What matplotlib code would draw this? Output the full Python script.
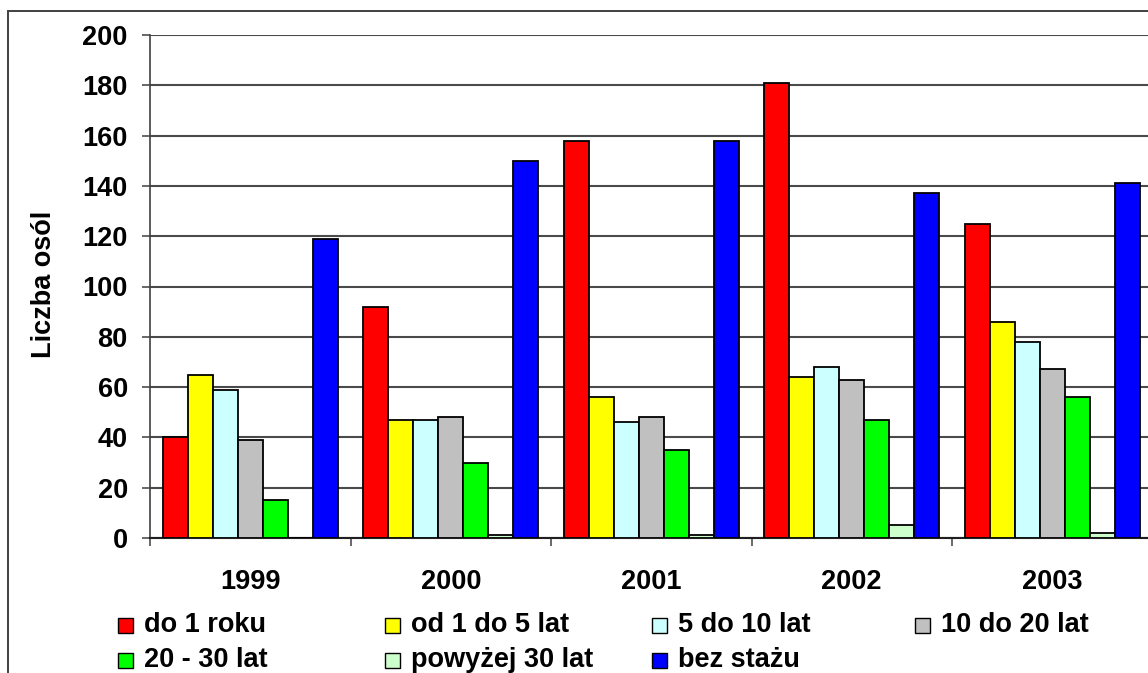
import matplotlib
matplotlib.use("Agg")
import matplotlib.pyplot as plt
import numpy as np
from matplotlib.patches import Rectangle

# data
years = ["1999", "2000", "2001", "2002", "2003"]
series = ["do 1 roku", "od 1 do 5 lat", "5 do 10 lat", "10 do 20 lat",
          "20 - 30 lat", "powyżej 30 lat", "bez stażu"]
do_1_roku = [40, 92, 158, 181, 125]
od_1_do_5 = [65, 47, 56, 64, 86]
od_5_do_10 = [59, 47, 46, 68, 78]
od_10_do_20 = [39, 48, 48, 63, 67]
od_20_do_30 = [15, 30, 35, 47, 56]
powyzej_30 = [0, 1, 1, 5, 2]
bez_stazu = [119, 150, 158, 137, 141]
values = [do_1_roku, od_1_do_5, od_5_do_10, od_10_do_20,
          od_20_do_30, powyzej_30, bez_stazu]
y_ticks = list(range(0, 201, 20))

colors = ["#FF0000", "#FFFF00", "#CCFFFF", "#C0C0C0",
          "#00FF00", "#CCFFCC", "#0000FF"]

plt.rcParams["font.family"] = ["Liberation Sans", "DejaVu Sans"]
FS = 19.5

W, H = 1148, 673
fig = plt.figure(figsize=(W / 100, H / 100), dpi=100)
fig.patch.set_facecolor("white")

# plot area: left edge at x=150 px, y=0 at 538 px, y=200 at 35 px
ax = fig.add_axes([150 / W, 1 - 538 / H, 1002.5 / W, 503 / H])
ax.set_facecolor("white")

x = np.arange(len(years))
bw = 1 / 8
for i, (name, vals) in enumerate(zip(series, values)):
    ax.bar(x + (i - 3) * bw, vals, width=bw, color=colors[i],
           edgecolor="black", linewidth=1.3, zorder=3)

ax.set_xlim(-0.5, len(years) - 0.5)
ax.set_ylim(0, 200)
ax.set_yticks(y_ticks)
ax.set_yticklabels([str(t) for t in y_ticks], fontsize=FS, fontweight="bold")
ax.set_xticks(x)
ax.set_xticklabels(years, fontsize=FS, fontweight="bold")
ax.set_xticks(np.arange(len(years) + 1) - 0.5, minor=True)
ax.tick_params(axis="x", which="major", length=0, pad=22)
ax.tick_params(axis="x", which="minor", length=6, width=1.1,
               direction="out", color="#404040")
ax.tick_params(axis="y", length=6, width=1.1, direction="out",
               color="#404040", pad=10)

ax.grid(axis="y", color="#4a4a4a", linewidth=1.5, zorder=0)
ax.set_axisbelow(True)
for s in ("top", "right"):
    ax.spines[s].set_visible(False)
ax.spines["left"].set_color("#404040")
ax.spines["left"].set_linewidth(1.2)
ax.spines["bottom"].set_color("#202020")
ax.spines["bottom"].set_linewidth(1.5)

fig.text(44 / W, 1 - 284 / H, "Liczba osól", rotation=90,
         ha="center", va="center", fontsize=FS, fontweight="bold")

# outer chart frame (runs past the right and bottom edges)
fig.patches.append(Rectangle((8 / W, -0.1), 1.2, 1.1 - 11 / H,
                             transform=fig.transFigure, fill=False,
                             edgecolor="#404040", linewidth=1.4))

# legend, laid out in 4 columns like the reference
col_x = [118, 385, 652, 915]
row_y = [625, 660]
sq = 15
for i, name in enumerate(series):
    cx = col_x[i % 4]
    cy = row_y[i // 4]
    fig.patches.append(Rectangle((cx / W, 1 - (cy + sq / 2) / H), sq / W, sq / H,
                                 transform=fig.transFigure,
                                 facecolor=colors[i], edgecolor="black",
                                 linewidth=1.0))
    fig.text((cx + 26) / W, 1 - cy / H, name, ha="left", va="center",
             fontsize=FS, fontweight="bold")

fig.savefig("out.png", dpi=100, facecolor="white")
